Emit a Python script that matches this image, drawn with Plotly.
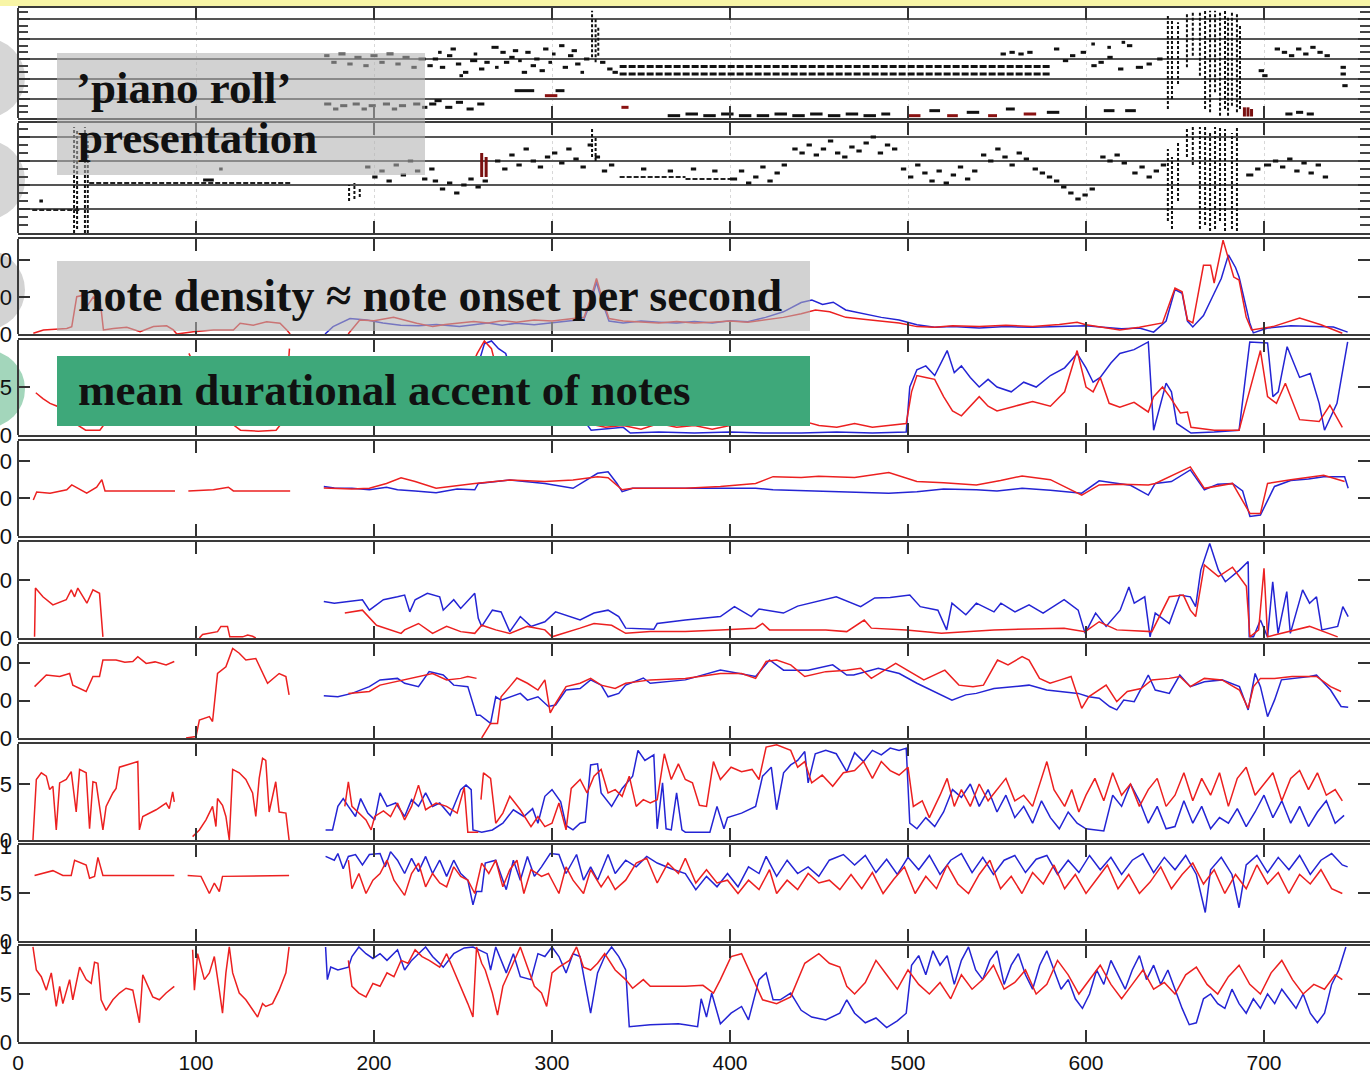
import plotly.graph_objects as go

# ---------------- DATA (time in seconds) ----------------
# Panel 3: note density (onsets per second)
dens_red_a = [(8.6,0.2),(14.3,1.1),(27.4,1.5),(30.2,2.0),(33.0,10.1),(36.7,10.5),(38.6,7.4),(42.3,10.0),(46.1,9.2),(48.0,1.1),(53.6,1.5),(61.1,1.8),(68.6,0.6),(76.1,2.0),(83.5,2.2),(87.3,1.1),(89.2,0.0),(98.5,0.6),(109.8,1.1),(121.0,1.1),(124.8,2.9),(132.2,2.4),(139.7,3.3),(147.2,2.9),(151.0,1.1),(152.9,0.0)]
dens_red_b = [(185.5,0.0),(192,3.8),(200,3.6),(211,4.5),(224,2.9),(233,2.0),(240,2.6),(248,2.9),(256,3.4),(264,3.0),(272,3.6),(280,3.2),(290,3.8),(300,3.5),(310,4.0),(318,4.5),(322,10.0),(325,15.0),(328,10.0),(332,4.2),(340,3.5),(350,3.2),(360,3.0),(370,3.4),(380,3.0),(390,3.2),(400,3.5),(410,3.2),(420,3.8),(430,4.5),(440,5.5),(448,6.5),(456,6.0),(465,4.5),(475,4.0),(485,3.5),(495,3.0),(505,2.0),(515,1.8),(525,2.2),(540,2.0),(555,2.4),(570,2.0),(585,2.6),(595,3.2),(600,2.5),(608,1.9),(619,1.1),(630,1.8),(643,3.0),(650,12.4),(654,11.4),(657,3.8),(660,3.0),(666,18.6),(670,18.6),(672,13.8),(677,25.4),(683,15.4),(686,14.6),(690,4.6),(693,1.1),(705,2.0),(720,4.3),(732,2.5),(744,0.2)]
dens_blue = [(172.5,0.0),(177,2.0),(186.5,4.2),(196,3.8),(205,3.0),(215,2.4),(225,2.2),(235,2.6),(248,2.0),(256,2.6),(264,3.0),(272,2.4),(280,2.9),(290,2.5),(300,3.0),(310,3.4),(318,4.0),(322,9.0),(325,14.0),(328,9.0),(332,3.5),(340,3.0),(350,3.5),(360,3.2),(370,3.0),(380,3.4),(390,3.0),(400,3.6),(410,3.3),(420,4.5),(430,6.0),(440,8.5),(446,9.2),(452,8.0),(458,8.6),(465,6.5),(475,5.5),(485,4.5),(495,3.8),(505,2.5),(515,1.8),(525,2.0),(540,1.6),(555,2.0),(570,1.8),(585,2.0),(600,2.2),(608,1.9),(620,1.4),(630,1.6),(638,0.5),(645,3.5),(650,12.0),(654,11.0),(657,3.5),(660,1.9),(666,5.0),(671,10.0),(676,15.0),(680,21.4),(684,18.0),(686,15.4),(692,3.0),(694,0.3),(702,1.6),(715,2.2),(730,2.0),(739,1.9),(747,0.5)]

# Panel 4: mean durational accent
acc_red_a = [(10,0.44),(14,0.38),(18,0.33),(22,0.30),(27,0.20),(32,0.12),(38,0.05),(46,0.05),(50,0.15),(60,0.30),(70,0.20),(80,0.25),(88,0.30)]
acc_red_b = [(96,0.85),(100,0.70),(105,0.50),(112,0.30),(120,0.12),(125,0.05),(135,0.04),(145,0.05),(148,0.12),(151,0.50),(152.5,0.90)]
acc_red_c = [(185,0.15),(195,0.20),(210,0.30),(225,0.35),(240,0.40),(252,0.60),(258,0.85),(262,0.98),(266,0.90),(270,0.60),(280,0.40),(295,0.30),(310,0.20),(320,0.12),(330,0.08),(340,0.10),(350,0.06),(360,0.12),(370,0.08),(380,0.10),(390,0.06),(400,0.10),(410,0.15),(420,0.12),(430,0.18),(440,0.15),(450,0.10),(460,0.08),(470,0.12),(480,0.08),(490,0.10),(499,0.12),(502,0.45),(505,0.62),(510,0.60),(515,0.58),(520,0.40),(525,0.25),(530,0.20),(535,0.30),(540,0.40),(545,0.30),(550,0.25),(560,0.30),(570,0.35),(580,0.30),(588,0.45),(595,0.88),(600,0.50),(604,0.45),(608,0.60),(613,0.33),(619,0.29),(627,0.34),(635,0.24),(638,0.40),(643,0.50),(647,0.40),(653,0.23),(657,0.24),(659,0.08),(672,0.05),(686,0.05),(690,0.33),(698,0.88),(702,0.40),(707,0.33),(712,0.54),(720,0.16),(731,0.14),(737,0.31),(744,0.08)]
acc_blue = [(172.5,0.20),(180,0.30),(190,0.40),(200,0.35),(210,0.45),(220,0.50),(230,0.45),(240,0.55),(250,0.60),(258,0.70),(262,0.95),(266,0.98),(270,0.90),(274,0.85),(278,0.60),(285,0.50),(295,0.45),(305,0.40),(315,0.30),(320,0.10),(322,0.05),(330,0.06),(340,0.08),(344,0.02),(360,0.03),(380,0.02),(400,0.03),(420,0.02),(440,0.02),(460,0.03),(480,0.02),(499,0.03),(501,0.50),(505,0.68),(510,0.72),(515,0.62),(520,0.80),(522,0.88),(526,0.65),(530,0.72),(535,0.60),(540,0.50),(545,0.58),(550,0.50),(558,0.45),(565,0.55),(572,0.50),(580,0.62),(588,0.70),(595,0.85),(600,0.70),(604,0.55),(608,0.60),(614,0.75),(619,0.85),(627,0.89),(635,0.97),(638,0.05),(645,0.54),(648,0.45),(651,0.12),(659,0.02),(672,0.03),(686,0.05),(692,0.97),(702,0.96),(705,0.40),(708,0.45),(713,0.92),(720,0.60),(726,0.64),(731,0.33),(734,0.05),(741,0.33),(747,0.97)]

# Panel 5
p5_red_a = [(8.6,9.6),(10.5,11.7),(18,11.4),(27.4,12.3),(30.2,13.6),(38.6,11.4),(44.2,13.0),(47.1,15.0),(48.9,12.0),(60,12.0),(75,12.0),(88.2,12.0)]
p5_red_b = [(95.7,12.0),(109.8,12.3),(118.2,13.0),(121,12.0),(152.9,12.0)]
p5_red_c = [(171.8,12.8),(187.6,12.5),(197.4,12.7),(207,14.0),(215.2,15.5),(223.1,14.5),(234.9,12.7),(246.7,13.5),(256.6,14.0),(276.3,14.9),(296,14.5),(311.8,14.9),(325.6,15.8),(331.5,15.5),(339.4,12.3),(345.3,12.7),(374.9,12.7),(394.6,13.2),(414.4,14.0),(424.2,15.8),(440,15.6),(449.8,15.9),(470,15.6),(489.2,16.9),(505,14.5),(520,14.2),(538.4,13.6),(552,14.8),(564.1,16.0),(580,15.0),(597.6,10.9),(607.4,13.6),(620,13.8),(635,13.6),(638.9,14.0),(658.6,18.4),(666.5,12.7),(682.3,14.0),(692.1,6.0),(698,6.0),(702,14.0),(715,15.0),(733.5,16.2),(745.3,14.5)]
p5_blue = [(171.8,13.2),(177.7,12.8),(187.6,12.7),(197.4,12.3),(207,13.0),(213.2,12.3),(223.1,12.0),(234.9,11.5),(246.7,12.5),(256.6,12.3),(258.6,14.0),(276.3,14.9),(296,14.0),(311.8,12.7),(325.6,16.7),(331.5,17.1),(336.5,14.0),(339.4,11.8),(345.3,12.7),(374.9,12.7),(414.4,12.7),(424.2,12.3),(453.8,11.8),(470,11.6),(489.2,11.4),(505,11.8),(520,12.5),(538.4,12.3),(550,12.0),(564.1,12.7),(580,12.2),(597.6,11.4),(607.4,14.7),(615,14.2),(625,13.5),(635,10.9),(638.9,14.0),(648,14.5),(658.6,17.6),(666.5,12.3),(674,13.8),(682.3,14.0),(688,12.0),(692.1,5.2),(698,5.6),(705.9,13.2),(715,14.8),(725,15.2),(733.5,15.8),(745.3,15.8),(747.3,12.7)]

# Panel 6
p6_red_a = [(9.3,0.2),(9.8,8.6),(14,7.1),(19.6,5.7),(27.1,6.6),(29.9,8.3),(31.8,7.1),(33.6,8.6),(38.7,6.0),(42.1,8.3),(45.8,7.7),(47.7,0.2)]
p6_red_b = [(101.9,0.0),(103.7,0.6),(112.1,1.1),(114,2.0),(117.7,2.0),(119,0.2),(126.2,0.2),(129,0.5),(131.8,0.3),(133.6,0.0)]
p6_red_c = [(183.6,4.3),(193.5,4.8),(201.4,2.2),(215.2,0.8),(217.2,1.4),(225,2.5),(232.9,0.8),(240.8,2.0),(248.7,1.1),(256.6,0.8),(260.5,2.2),(268.4,1.4),(276.3,0.8),(286.2,2.0),(296,1.4),(300,0.2),(315.8,1.7),(323.6,2.5),(333.5,2.2),(341.4,0.8),(355.2,1.1),(374.9,1.1),(394.6,1.4),(414.4,1.7),(418.3,2.5),(422.2,1.4),(453.8,1.4),(465.6,1.1),(475.4,3.1),(479.4,1.7),(499,1.4),(518.8,0.8),(548.3,1.4),(587.7,1.7),(599.5,1.1),(607.4,2.8),(617.3,1.4),(637,1.1),(646.8,7.1),(654.7,7.4),(658.6,4.8),(661.6,3.7),(666.5,12.6),(674.4,10.6),(682.3,12.2),(690.1,8.9),(692.1,0.2),(697,1.4),(700,12.0),(702,0.2),(705.9,0.5),(725.6,2.0),(741.4,0.2)]
p6_blue = [(171.8,6.3),(177.7,6.0),(185.6,6.3),(193.5,6.6),(197.4,4.8),(205.3,6.6),(213.2,7.1),(217.2,7.4),(220.1,4.5),(223.1,6.6),(230,7.7),(236.9,7.1),(238.9,4.8),(244.8,6.6),(248.7,5.1),(256.6,7.7),(258.6,3.4),(260.5,2.0),(266.5,4.8),(271.4,4.5),(276.3,1.1),(282.2,3.7),(288.2,2.0),(296,2.8),(302,4.5),(309.8,3.7),(315.8,3.1),(323.6,4.3),(331.5,4.8),(337.5,3.7),(341.4,1.7),(357.2,1.5),(359.1,2.5),(374.9,3.1),(394.6,3.7),(402.5,5.4),(412,3.7),(416.3,5.0),(430,4.3),(438,5.5),(449.8,6.3),(459.7,7.1),(473.4,5.4),(481.3,6.9),(490,7.0),(501,7.4),(506.9,5.4),(516.8,4.8),(521.7,1.4),(524.7,6.0),(532.5,4.0),(538.4,6.0),(548.3,4.5),(552.2,6.0),(560.1,4.5),(568,5.7),(575.9,4.3),(587.7,6.6),(595.6,4.8),(599.5,0.8),(605.4,4.3),(611.3,2.0),(619.2,4.8),(624.1,8.8),(627.1,6.0),(633,7.1),(636,0.2),(638.9,4.3),(646.8,2.5),(652.7,7.4),(658.6,7.1),(661.6,5.4),(664.5,11.7),(669.5,16.3),(674.4,11.7),(678.3,9.7),(686.2,11.7),(691.1,13.2),(691.7,0.2),(694.1,0.2),(698,3.1),(702,0.2),(704.9,9.7),(707.9,0.8),(712.8,8.0),(714.8,0.8),(721.7,8.3),(725.6,6.0),(729.5,7.1),(732.5,1.4),(741.4,2.0),(744.3,5.4),(747.3,3.7)]

# Panel 7
p7_red_a = [(9.3,13.7),(15.9,16.8),(23.4,16.4),(29,17.2),(30.8,14.1),(38.3,12.4),(42.1,16.4),(45.8,16.4),(47.7,20.8),(55.1,20.8),(60,20.2),(64.5,20.4),(67.3,21.7),(72,19.9),(77,20.3),(83.2,19.5),(87.8,20.4)]
p7_red_b = [(94.4,0.0),(100,0.4),(101.9,4.8),(107.5,5.7),(109.3,4.4),(112.1,17.2),(116.8,19.0),(120.6,23.9),(124.3,22.6),(128,20.8),(133.6,21.2),(140.2,14.6),(146.7,17.2),(150.5,16.4),(152.3,11.5)]
p7_red_c = [(185.6,11.9),(197.4,12.4),(203.4,14.1),(217.2,15.5),(225,16.4),(232.9,17.2),(240.8,15.5),(248.7,15.9),(252.7,16.4),(257.6,15.9)]
p7_red_d = [(260.5,0.0),(265.5,3.9),(269.4,3.9),(271.4,11.0),(276.3,13.7),(280.3,16.0),(286.2,14.6),(292.1,12.8),(296,15.5),(299,6.7),(302,9.2),(307.9,13.7),(315.8,14.6),(321.7,15.9),(327.6,14.1),(335.5,13.2),(341.4,14.6),(355.2,15.5),(374.9,15.9),(394.6,17.2),(406.5,17.2),(414.4,15.9),(420.3,20.4),(426.2,20.8),(434.1,19.5),(442,16.4),(453.8,17.7),(465.6,18.1),(473.4,18.6),(479.4,15.9),(493.1,19.9),(501,17.7),(508.9,15.5),(520.7,18.1),(528.6,14.1),(536.5,13.7),(542.4,14.1),(550.3,20.8),(556.2,19.5),(564.1,21.7),(568,20.8),(573.9,15.9),(579.8,14.6),(585.7,15.5),(591.6,16.4),(597.6,7.9),(601.5,11.0),(611.3,14.1),(617.3,9.7),(623.2,12.4),(631,13.2),(637,15.5),(646.8,15.9),(652.7,16.4),(658.6,13.7),(666.5,15.9),(676.4,15.5),(686.2,12.8),(691.1,7.9),(694.1,13.7),(698,15.9),(705.9,15.9),(715.8,16.4),(729.5,16.4),(737.4,13.7),(743.3,12.4)]
p7_blue = [(171.8,11.3),(179.7,11.0),(187.6,11.9),(197.4,13.7),(203.4,15.5),(213.2,15.9),(217.2,14.6),(225,13.7),(231,17.7),(238.9,16.8),(244.8,14.1),(252.7,13.7),(257.6,6.1),(259.6,6.1),(265.5,3.9),(268.4,11.0),(271.4,10.1),(276.3,11.0),(282.2,11.9),(286.2,10.1),(292.1,11.0),(298,8.4),(302,8.8),(307.9,12.8),(315.8,13.2),(321.7,15.5),(327.6,14.1),(331.5,11.0),(337.5,11.9),(341.4,14.1),(351.3,16.0),(355.2,14.6),(374.9,15.5),(394.6,18.1),(414.4,16.4),(422.2,20.8),(430.1,18.1),(443.9,18.1),(457.7,19.5),(465.6,16.8),(469.5,16.8),(483.3,18.6),(495.1,17.2),(505,14.6),(514.8,12.4),(524.7,10.1),(532.5,11.5),(538.4,11.9),(548.3,13.2),(558.2,13.7),(568,14.1),(577.9,12.8),(587.7,12.4),(595.6,11.9),(601.5,11.0),(607.4,10.6),(613.3,8.4),(617.3,7.5),(621.2,10.1),(627.1,9.7),(635,16.8),(638.9,12.8),(646.8,11.9),(652.7,16.8),(658.6,13.7),(666.5,15.0),(676.4,15.5),(686.2,13.7),(691.1,7.5),(695,17.2),(698,13.7),(702,5.7),(705.9,10.1),(709.8,15.5),(725.6,16.4),(729.5,16.8),(737.4,12.8),(743.3,8.4),(747.3,8.2)]

# Panel 8
p8_red_a = [(8.4,0.0),(10.3,0.54),(13.1,0.60),(15.9,0.57),(17.8,0.45),(19.6,0.48),(21.5,0.09),(23.4,0.51),(27.1,0.54),(29.9,0.61),(32.7,0.25),(34.6,0.63),(38.3,0.60),(40.2,0.10),(42.1,0.52),(43.9,0.51),(47.7,0.09),(49.5,0.30),(53.3,0.42),(55.1,0.46),(57,0.65),(62.6,0.68),(67.3,0.70),(68.2,0.09),(70.1,0.21),(77.6,0.27),(83.2,0.33),(85,0.28),(86.9,0.43),(87.8,0.34)]
p8_red_b = [(98.1,0.03),(101.9,0.09),(105.6,0.18),(109.3,0.30),(111.2,0.12),(112.1,0.37),(114.9,0.31),(116.8,0.21),(118.7,0.0),(120.6,0.63),(124.3,0.60),(128,0.54),(131.8,0.42),(133.6,0.21),(135.5,0.55),(137.4,0.73),(139.2,0.71),(141.1,0.25),(144.8,0.52),(146.7,0.25),(150.5,0.24),(152.3,0.0)]
p8_red_c = [(183.6,0.30),(185.6,0.52),(187.6,0.30),(191.5,0.24),(195.5,0.18),(198.4,0.09),(200.4,0.21),(205.3,0.26),(209.3,0.21),(213.2,0.33),(217.2,0.18),(221.1,0.30),(225,0.49),(229,0.27),(234.9,0.33),(240.8,0.30),(246.7,0.24),(250.7,0.47),(252.7,0.07),(258.6,0.07)]
p8_red_d = [(260.1,0.36),(261.5,0.60),(265.5,0.55),(268.4,0.15),(272.4,0.24),(276.3,0.39),(282.2,0.27),(288.2,0.12),(292.1,0.21),(296,0.12),(300,0.15),(303.9,0.33),(307.9,0.09),(310.8,0.46),(315.8,0.54),(319.7,0.42),(323.6,0.57),(327.6,0.63),(331.5,0.42),(335.5,0.45),(339.4,0.39),(343.4,0.57),(347.3,0.30),(351.3,0.36),(355.2,0.33),(359.1,0.36),(363.1,0.77),(367,0.54),(371,0.68),(374.9,0.54),(378.9,0.51),(382.8,0.31),(386.8,0.30),(390.7,0.70),(394.6,0.54),(400.6,0.65),(406.5,0.61),(412.4,0.63),(416.3,0.54),(420.3,0.83),(426.2,0.85),(434.1,0.80),(438,0.65),(442,0.70),(445.9,0.51),(451.8,0.58),(457.7,0.48),(463.7,0.60),(470,0.62),(475,0.70),(480,0.55),(485,0.70),(490,0.62),(495,0.58),(500,0.65),(503,0.30),(508,0.35),(512,0.20),(518,0.40),(522,0.55),(526,0.30),(530,0.45),(535,0.30),(540,0.50),(545,0.35),(550,0.45),(555,0.55),(560,0.35),(565,0.40),(570,0.30),(575,0.55),(578,0.70),(582,0.45),(588,0.30),(592,0.45),(596,0.25),(600,0.40),(605,0.55),(610,0.35),(615,0.60),(620,0.40),(625,0.50),(630,0.30),(635,0.45),(640,0.55),(645,0.30),(650,0.40),(655,0.60),(660,0.35),(665,0.55),(670,0.40),(675,0.60),(680,0.30),(685,0.55),(690,0.65),(695,0.40),(700,0.50),(705,0.60),(710,0.35),(715,0.55),(720,0.62),(725,0.45),(730,0.60),(735,0.40),(740,0.45),(744,0.35)]
p8_blue = [(172.8,0.09),(176.7,0.09),(179.7,0.30),(182.7,0.37),(185.6,0.30),(189.6,0.21),(192.5,0.37),(196.5,0.24),(200.4,0.18),(203.4,0.42),(207.3,0.30),(212.2,0.33),(217.2,0.21),(221.1,0.36),(225,0.30),(229,0.42),(232.9,0.30),(236.9,0.33),(242.8,0.22),(248.7,0.45),(251.7,0.49),(254.6,0.45),(255.6,0.09),(260.5,0.07),(266.5,0.09),(272.4,0.15),(278.3,0.27),(284.2,0.21),(289.1,0.28),(292.1,0.15),(296,0.39),(300,0.45),(304.9,0.34),(307.9,0.13),(311.8,0.09),(315.8,0.15),(318.7,0.16),(321.7,0.67),(325.6,0.68),(327.6,0.42),(333.5,0.30),(339.4,0.46),(345.3,0.57),(348.3,0.80),(352.2,0.71),(357.2,0.76),(359.1,0.10),(362.1,0.51),(364.1,0.10),(367,0.09),(370,0.42),(373,0.09),(374.9,0.07),(388.7,0.07),(392.7,0.30),(396.6,0.10),(398.6,0.20),(406.5,0.24),(414.4,0.30),(418.3,0.57),(423.2,0.65),(426.2,0.27),(430.1,0.60),(434.1,0.67),(438,0.71),(442,0.79),(443.9,0.51),(447.9,0.77),(453.8,0.80),(459.7,0.77),(465.6,0.61),(470,0.78),(475,0.70),(480,0.80),(485,0.76),(490,0.82),(495,0.80),(499,0.82),(501,0.15),(505,0.10),(510,0.20),(515,0.12),(520,0.25),(525,0.45),(530,0.38),(535,0.50),(540,0.30),(545,0.45),(550,0.25),(555,0.40),(560,0.20),(565,0.30),(570,0.15),(575,0.35),(580,0.20),(585,0.10),(590,0.25),(595,0.15),(600,0.10),(610,0.08),(615,0.40),(620,0.30),(625,0.50),(630,0.35),(635,0.15),(640,0.30),(645,0.10),(650,0.12),(655,0.35),(660,0.15),(665,0.30),(670,0.10),(675,0.20),(680,0.15),(685,0.28),(690,0.12),(695,0.25),(700,0.40),(705,0.20),(710,0.35),(715,0.15),(720,0.30),(725,0.12),(730,0.25),(735,0.35),(740,0.15),(745,0.22)]

# Panel 9
p9_red_a = [(9.3,0.69),(15.9,0.72),(19.6,0.74),(25.2,0.69),(29.9,0.69),(31.8,0.85),(35.5,0.82),(38.3,0.80),(40.2,0.66),(43,0.68),(44.9,0.88),(47.7,0.69),(87.8,0.69)]
p9_red_b = [(95.3,0.69),(102.8,0.68),(107.5,0.50),(110.3,0.61),(113.1,0.52),(114.9,0.68),(152.3,0.69)]
p9_red_c = [(185.6,0.85),(187.6,0.55),(191.5,0.71),(195.5,0.50),(199.4,0.64),(203.4,0.71),(207.3,0.85),(211.2,0.64),(217.2,0.48),(221.1,0.71),(225,0.82),(229,0.57),(232.9,0.71),(236.9,0.61),(240.8,0.57),(244.8,0.78),(248.7,0.68),(252.7,0.64),(256.6,0.50),(260.5,0.82),(264.5,0.71),(268.4,0.85),(272.4,0.57),(276.3,0.75),(280.3,0.85),(284.2,0.50),(288.2,0.75),(294.1,0.68),(298,0.71),(303.9,0.50),(307.9,0.78),(311.8,0.64),(317.7,0.50),(321.7,0.75),(327.6,0.57),(331.5,0.68),(335.5,0.54),(341.4,0.64),(347.3,0.82),(353.2,0.87),(359.1,0.61),(365.1,0.82),(371,0.71),(374.9,0.87),(380.8,0.61),(386.8,0.75),(392.7,0.61),(398.6,0.64),(404.5,0.50),(410.4,0.64),(416.3,0.54),(422.2,0.75),(426.2,0.50),(432.1,0.64),(438,0.54),(443.9,0.71),(449.9,0.61),(455.8,0.64),(461.7,0.54),(468,0.70),(474,0.55),(480,0.72),(486,0.50),(492,0.65),(498,0.78),(504,0.50),(510,0.68),(516,0.55),(522,0.80),(528,0.60),(534,0.50),(540,0.70),(546,0.85),(552,0.55),(558,0.68),(564,0.50),(570,0.72),(576,0.60),(582,0.80),(588,0.55),(594,0.70),(600,0.50),(606,0.65),(612,0.80),(618,0.55),(624,0.70),(630,0.50),(636,0.62),(642,0.78),(648,0.55),(654,0.70),(660,0.82),(666,0.60),(672,0.75),(678,0.50),(684,0.70),(690,0.55),(696,0.80),(702,0.60),(708,0.72),(714,0.50),(720,0.70),(726,0.60),(732,0.75),(738,0.55),(744,0.50)]
p9_blue = [(172.8,0.89),(177.7,0.85),(179.7,0.92),(182.7,0.76),(185.6,0.89),(189.6,0.91),(193.5,0.80),(197.4,0.91),(203.4,0.92),(206.3,0.78),(209.3,0.94),(213.2,0.85),(217.2,0.71),(221.1,0.87),(225,0.73),(229,0.89),(232.9,0.71),(236.9,0.85),(240.8,0.68),(244.8,0.85),(248.7,0.71),(252.7,0.64),(255.6,0.38),(257.6,0.52),(260.5,0.52),(262.5,0.82),(268.4,0.85),(274.3,0.54),(278.3,0.85),(282.2,0.64),(286.2,0.89),(290.1,0.68),(294.1,0.78),(299,0.92),(303.9,0.91),(307.9,0.71),(313.8,0.91),(317.7,0.64),(321.7,0.78),(325.6,0.64),(331.5,0.91),(335.5,0.71),(341.4,0.85),(347.3,0.78),(353.2,0.89),(359.1,0.82),(367,0.76),(374.9,0.71),(380.8,0.54),(386.8,0.68),(392.7,0.57),(398.6,0.71),(404.5,0.57),(410.4,0.78),(416.3,0.71),(420.3,0.89),(426.2,0.68),(432.1,0.85),(438,0.71),(443.9,0.78),(449.9,0.68),(455.8,0.85),(463.7,0.91),(470,0.80),(476,0.90),(482,0.72),(488,0.86),(494,0.70),(500,0.88),(506,0.75),(512,0.90),(518,0.70),(524,0.85),(530,0.92),(536,0.72),(542,0.88),(548,0.70),(554,0.85),(560,0.90),(566,0.72),(572,0.86),(578,0.90),(584,0.70),(590,0.85),(596,0.72),(602,0.90),(608,0.75),(614,0.88),(620,0.70),(626,0.85),(632,0.92),(638,0.72),(644,0.88),(650,0.75),(656,0.90),(662,0.70),(667,0.30),(670,0.75),(676,0.88),(682,0.70),(686,0.35),(690,0.80),(696,0.90),(702,0.72),(708,0.88),(714,0.75),(720,0.90),(726,0.70),(732,0.85),(738,0.92),(744,0.80),(747,0.78)]

# Panel 10
p10_red_a = [(8.4,0.99),(10.3,0.75),(13.1,0.68),(15.9,0.54),(18.7,0.72),(21.5,0.37),(23.4,0.58),(25.2,0.40),(29,0.65),(30.8,0.44),(34.6,0.78),(38.3,0.65),(41.1,0.61),(43,0.83),(44.9,0.82),(46.7,0.44),(49.5,0.33),(53.3,0.44),(57,0.51),(60.7,0.56),(64.5,0.54),(68.2,0.20),(70.1,0.70),(72.9,0.58),(75.7,0.47),(79.4,0.44),(83.2,0.51),(87.8,0.58)]
p10_red_b = [(98.1,0.96),(99.1,0.54),(100.9,0.92),(104.7,0.65),(107.5,0.72),(110.3,0.89),(113.1,0.54),(114.9,0.30),(116.8,0.72),(118.7,0.99),(120.6,0.72),(124.3,0.51),(128,0.44),(131.8,0.33),(134.6,0.26),(137.4,0.40),(139.2,0.37),(143,0.40),(146.7,0.54),(150.5,0.72),(152.3,0.99)]
p10_red_c = [(185.6,0.85),(187.6,0.58),(191.5,0.51),(195.5,0.47),(199.4,0.61),(203.4,0.58),(207.3,0.72),(211.2,0.68),(215.2,0.85),(219.1,0.82),(223.1,0.96),(227,0.89),(231,0.85),(236.9,0.78),(240.8,0.92),(244.8,0.75),(248.7,0.58),(252.7,0.40),(255.6,0.26),(257.6,0.99),(260.5,0.82),(262.5,0.75),(266.5,0.51),(269.4,0.28),(272.4,0.58),(276.3,0.75),(282.2,0.99),(286.2,0.78),(290.1,0.58),(294.1,0.51),(297,0.37),(300,0.72),(303.9,0.78),(309.8,0.85),(313.8,0.99),(317.7,0.78),(321.7,0.75),(325.6,0.82),(329.6,0.92),(335.5,0.75),(341.4,0.65),(345.3,0.56),(351.3,0.65),(355.2,0.58),(365.1,0.58),(374.9,0.58),(384.8,0.59),(390.7,0.51),(394.6,0.65),(400.6,0.89),(406.5,0.92),(412.4,0.68),(418.3,0.44),(426.2,0.40),(434.1,0.47),(442,0.82),(449.9,0.92),(455.8,0.82),(461.7,0.78),(465.6,0.58),(470,0.50),(476,0.62),(482,0.85),(488,0.70),(494,0.55),(500,0.75),(506,0.60),(512,0.50),(518,0.62),(524,0.45),(530,0.70),(536,0.55),(542,0.65),(548,0.80),(554,0.55),(560,0.62),(566,0.75),(572,0.50),(578,0.60),(584,0.85),(590,0.70),(596,0.50),(602,0.65),(608,0.80),(614,0.60),(620,0.45),(626,0.60),(632,0.75),(638,0.55),(644,0.62),(650,0.50),(656,0.70),(662,0.78),(668,0.60),(674,0.50),(680,0.68),(686,0.80),(692,0.60),(698,0.50),(704,0.72),(710,0.85),(716,0.65),(722,0.50),(728,0.60),(734,0.55),(740,0.70),(744,0.65)]
p10_blue = [(172.8,0.99),(173.8,0.65),(175.7,0.78),(179.7,0.75),(185.6,0.78),(187.6,0.89),(191.5,0.99),(195.5,0.92),(199.4,0.87),(203.4,0.92),(207.3,0.85),(213.2,0.96),(217.2,0.75),(221.1,0.85),(225,0.92),(229,0.99),(232.9,0.89),(238.9,0.78),(244.8,0.92),(250.7,0.98),(255.6,0.99),(263.5,0.92),(265.5,0.75),(268.4,0.99),(274.3,0.72),(278.3,0.92),(282.2,0.68),(288.2,0.65),(292.1,0.92),(296,0.89),(300,0.99),(303.9,0.89),(307.9,0.72),(311.8,0.92),(315.8,0.89),(321.7,0.30),(325.6,0.72),(329.6,0.89),(333.5,0.99),(337.5,0.89),(341.4,0.75),(343.4,0.16),(355.2,0.18),(365.1,0.19),(371,0.19),(374.9,0.18),(381.8,0.16),(383.8,0.45),(386.8,0.26),(389.7,0.51),(394.6,0.19),(400.6,0.30),(406.5,0.37),(410.4,0.23),(416.3,0.65),(420.3,0.72),(424.2,0.44),(428.2,0.44),(434.1,0.51),(440,0.33),(445.9,0.26),(453.8,0.23),(461.7,0.30),(465.6,0.44),(470,0.30),(476,0.20),(482,0.25),(488,0.15),(494,0.22),(499,0.30),(502,0.80),(506,0.90),(510,0.70),(514,0.95),(518,0.80),(522,0.90),(526,0.60),(530,0.85),(534,0.99),(538,0.75),(542,0.65),(546,0.85),(550,0.95),(554,0.60),(558,0.80),(562,0.92),(566,0.70),(570,0.55),(574,0.80),(578,0.95),(582,0.75),(586,0.55),(590,0.65),(594,0.45),(598,0.35),(602,0.50),(606,0.75),(610,0.60),(614,0.85),(618,0.70),(622,0.55),(626,0.75),(630,0.90),(634,0.65),(638,0.80),(642,0.60),(646,0.75),(650,0.55),(654,0.35),(658,0.18),(662,0.20),(666,0.45),(670,0.50),(674,0.40),(678,0.35),(682,0.55),(686,0.40),(690,0.30),(694,0.45),(698,0.35),(702,0.50),(706,0.40),(710,0.55),(714,0.45),(718,0.35),(722,0.50),(726,0.30),(730,0.20),(734,0.30),(738,0.60),(742,0.75),(746,0.99)]

# Piano roll (start s, end s, MIDI pitch)
pr1_notes = [(172,175,62),(176,179,58),(180,184,63),(185,188,57),(189,193,61),(194,197,56),(198,202,62),(203,206,58),(207,211,63),(212,215,57),(216,220,61),(221,224,55),(225,229,60),(230,233,56),
             (172,176,33),(177,180,30),(181,185,32),(188,192,33),(193,196,30),(197,201,32),(205,209,33),(210,213,30),(214,218,32),(222,226,33),(227,230,31),(231,235,33),
             (233,236,60),(237,240,55),(241,244,62),(246,249,57),(250,253,52),(254,258,59),(259,262,54),
             (236,238,64),(243,246,66),(248,250,50),(256,258,63),(262,265,58),(268,270,55),(273,276,58),(278,281,65),(283,286,52),(288,291,56),(293,296,53),(298,300,58),(306,309,55),(311,314,65),(316,318,52),
             (234,238,35),(240,244,31),(246,250,34),(252,256,30),(258,262,33),
             (266,270,67),(271,274,64),(276,279,61),(281,283,59),(285,288,64),(290,293,60),(295,298,66),(300,302,63),(304,307,68),(309,312,62),(313,316,57),(318,321,60),
             (279,290,41),(302,307,41),(327,330,58),(331,334,54),(334,337,52),
             (552,555,63),(557,560,64),(562,565,63),(567,570,64),
             (582,585,66),(587,590,59),(591,594,62),(597,600,64),(603,606,56),(607,610,58),(612,615,61),(618,621,54),(623,626,68),(628,632,55),(634,637,57),(640,643,60),
             (603,605,69),(612,614,67),(620,622,70),(610,616,29),(622,628,29),
             (697,700,53),(699,702,50),(706,709,66),(710,713,64),(714,717,62),(718,721,66),(722,725,63),(726,729,67),(730,733,64),(734,737,62),
             (712,716,27),(718,722,28),(724,728,27),(743,746,55),(743,746,51),(744,747,44),
             (365,372,26),(375,382,27),(385,392,26),(395,402,27),(405,412,26),(415,422,26),(425,432,27),(435,442,26),(445,452,27),(455,462,26),(465,472,27),(475,482,26),(485,490,27),(512,518,29),(533,540,28),(555,560,30),(578,585,28)]
pr1_red_notes = [(296,303,38),(339,343,31),(500,507,26),(522,528,26),(545,550,26),(565,572,27)]
pr1_bands = [(338,580,55.5),(338,580,51)]
pr1_stacks = [(322.5,61,89),(324.5,58,84),(326,62,80),(646,30,86),(648.3,36,84),(651.7,45,82),(656.7,55,88),(660,62,89),(664,50,88),(666.9,30,89),(669.7,28,89),(672.5,40,89),(675.3,26,89),(678.1,30,89),(679.8,26,86),(682,32,89),(684.8,28,88),(686.5,30,80)]
pr1_red_stacks = [(689,25.5,31),(691,25.5,31),(693,25.5,30)]

pr2_lines = [(8,35,35.5),(40,153,49),(338,375,52),(375,400,51)]
pr2_notes = [(12,14,40),(104,110,50.5),(113,115,56),
             (195,198,57),(199,202,52),(203,206,55),(207,210,50),(211,214,58),(215,218,53),(219,222,60),(223,226,55),(227,230,51),(231,234,56),
             (233,236,50),(237,240,46),(241,244,49),(245,248,44),(249,252,48),(253,256,51),(257,260,47),(261,264,50),
             (268,271,60),(272,275,56),(276,279,63),(280,283,58),(284,287,66),(288,291,60),(292,295,57),(296,299,62),
             (300,303,64),(304,307,59),(308,311,66),(312,315,61),(316,319,57),(320,323,68),(324,327,62),(328,331,55),(332,335,58),
             (350,353,56),(365,368,55),(378,381,56),(390,393,55),
             (400,404,51),(405,408,55),(409,412,49),(413,416,52),(417,420,57),(421,424,50),(425,428,54),(429,432,58),
             (435,438,66),(439,442,64),(443,446,68),(447,450,63),(451,454,66),(455,458,70),(459,462,64),(463,466,62),(467,470,67),(471,474,65),(475,478,69),(479,482,72),(483,486,64),(487,490,68),(491,494,66),
             (496,499,56),(500,503,52),(504,507,58),(508,511,54),(512,515,50),(516,519,55),(520,523,49),(524,527,53),(528,531,57),(532,535,51),(536,539,55),
             (541,544,63),(545,548,60),(549,552,66),(553,556,62),(557,560,58),(561,564,64),(565,568,61),
             (570,573,56),(574,577,54),(578,581,52),(582,585,50),(586,589,47),(590,593,44),(594,597,41),(598,601,43),(602,605,46),
             (608,611,62),(612,615,60),(616,619,63),(620,623,59),(626,629,54),(630,633,57),(634,637,52),(638,641,55),(642,645,58),
             (690,694,53),(695,698,56),(700,704,58),(705,708,60),(709,712,57),(713,716,61),(717,720,55),(721,724,59),(725,728,54),(729,732,58),(733,736,52)]
pr2_stacks = [(31.5,24,77),(33.2,26,75),(37.6,24,77),(39.2,24,70),(186,40,48),(189,41,49),(192,42,47),(322.5,62,76),(324.5,60,72),
              (646,30,66),(648.3,26,62),(651.7,40,70),(656.7,62,77),(660,58,77),(664,26,77),(666.9,28,77),(669.7,25,75),(672.5,26,77),(675.3,30,77),(678.1,25,76),(682,26,74),(684.8,25,77)]
pr2_red_stacks = [(260.5,52,64),(263,52,62)]

x_ticks = [0, 100, 200, 300, 400, 500, 600, 700]

# ---------------- LAYOUT HELPERS ----------------
W, H = 1370, 1075
ML, MB = 18, 33
PH = H - MB
XMAX = (W - ML) / 1.78
panels_px = [(8,118),(123,233),(239,334),(340,435),(441,536),(542,638),(644,738),(744,840),(845,941),(946,1042)]
yranges = [[24.6,90.6],[24,79],[0,25.7],[0,0.99],[0,25.3],[0,16.55],[0,25.07],[0,0.857],[0,1.01],[0,1.0]]
yticks = [None, None, [0,10,20], [0,0.5,1], [0,10,20], [0,10], [0,10,20], [0,0.5], [0,0.5,1], [0,0.5,1]]

def px_x(px): return (px - ML) / (W - ML)
def py_y(py): return (PH - py) / PH

RED = "#ec2020"
BLUE = "#2424d4"
FRAME = "#3a3a3a"

def xy(*segs):
    xs, ys = [], []
    for k, s in enumerate(segs):
        if k:
            xs.append(None); ys.append(None)
        xs += [p[0] for p in s]
        ys += [p[1] for p in s]
    return xs, ys

def notes_xy(notes):
    xs, ys = [], []
    for a, b, p in notes:
        xs += [a, b, None]; ys += [p, p, None]
    return xs, ys

def stacks_xy(st):
    xs, ys = [], []
    for t, lo, hi in st:
        xs += [t, t, None]; ys += [lo, hi, None]
    return xs, ys

fig = go.Figure()

def ax(i):
    return ("x" if i == 1 else f"x{i}"), ("y" if i == 1 else f"y{i}")

def add_line(i, xs, ys, color, width=1.5, dash=None):
    xa, ya = ax(i)
    fig.add_trace(go.Scatter(x=xs, y=ys, xaxis=xa, yaxis=ya, mode="lines",
                             line=dict(color=color, width=width, dash=dash),
                             connectgaps=False, hoverinfo="skip", showlegend=False))

add_line(1, *notes_xy(pr1_bands), "#111111", 3, "7px,2px")
add_line(1, *notes_xy(pr1_notes), "#111111", 3)
add_line(1, *notes_xy(pr1_red_notes), "#8a1212", 3)
add_line(1, *stacks_xy(pr1_stacks), "#111111", 2, "3px,2px")
add_line(1, *stacks_xy(pr1_red_stacks), "#7a1010", 3)
add_line(2, *notes_xy(pr2_lines), "#222222", 2, "5px,2px")
add_line(2, *notes_xy(pr2_notes), "#111111", 3)
add_line(2, *stacks_xy(pr2_stacks), "#111111", 2, "3px,2px")
add_line(2, *stacks_xy(pr2_red_stacks), "#7a1010", 3)

series = {
    3: (xy(dens_blue), xy(dens_red_a, dens_red_b)),
    4: (xy(acc_blue), xy(acc_red_a, acc_red_b, acc_red_c)),
    5: (xy(p5_blue), xy(p5_red_a, p5_red_b, p5_red_c)),
    6: (xy(p6_blue), xy(p6_red_a, p6_red_b, p6_red_c)),
    7: (xy(p7_blue), xy(p7_red_a, p7_red_b, p7_red_c, p7_red_d)),
    8: (xy(p8_blue), xy(p8_red_a, p8_red_b, p8_red_c, p8_red_d)),
    9: (xy(p9_blue), xy(p9_red_a, p9_red_b, p9_red_c)),
    10: (xy(p10_blue), xy(p10_red_a, p10_red_b, p10_red_c)),
}
for i, (b, r) in series.items():
    add_line(i, b[0], b[1], BLUE)
    add_line(i, r[0], r[1], RED)

layout = dict(width=W, height=H, margin=dict(l=ML, r=0, t=0, b=MB, autoexpand=False),
              paper_bgcolor="white", plot_bgcolor="rgba(0,0,0,0)", hovermode=False, showlegend=False)
shapes = []
for i in range(1, 11):
    top, bot = panels_px[i - 1]
    xk = "xaxis" if i == 1 else f"xaxis{i}"
    yk = "yaxis" if i == 1 else f"yaxis{i}"
    xa, ya = ax(i)
    pr = i <= 2
    layout[xk] = dict(domain=[0, 1], anchor=ya, range=[0, XMAX], tickvals=x_ticks,
                      ticktext=[str(v) for v in x_ticks], ticks="inside", ticklen=12, tickwidth=1.5,
                      tickcolor="#333", showline=True, linecolor=FRAME, linewidth=2, mirror="ticks",
                      showticklabels=(i == 10), zeroline=False, automargin=False,
                      showgrid=pr, gridcolor="#d8d8d8", griddash="dot", gridwidth=1,
                      tickfont=dict(family="Liberation Sans", size=21, color="#111"),
                      ticklabelstandoff=1)
    ydict = dict(domain=[py_y(bot), py_y(top)], anchor=xa, range=yranges[i - 1],
                 ticks="inside", ticklen=12, tickwidth=1.5, tickcolor="#333", mirror="ticks",
                 showline=False, zeroline=False, automargin=False,
                 tickfont=dict(family="Liberation Sans", size=22, color="#111"),
                 ticklabelstandoff=5)
    if pr:
        ydict.update(tickmode="linear", tick0=36, dtick=12, showticklabels=False, showgrid=True,
                     gridcolor="#555555", gridwidth=2,
                     minor=dict(tick0=36, dtick=4, ticks="inside", ticklen=10, tickcolor="#444", showgrid=False))
    else:
        tv = yticks[i - 1]
        ydict.update(tickmode="array", tickvals=tv, ticktext=[("%g" % v) for v in tv], showgrid=False)
    layout[yk] = ydict
    shapes.append(dict(type="line", xref="paper", yref="paper", x0=0, x1=0,
                       y0=py_y(bot), y1=py_y(top), line=dict(color=FRAME, width=2)))

def circle(cx, cy, r, color):
    return dict(type="circle", xref="paper", yref="paper", layer="below",
                x0=px_x(cx - r), x1=px_x(cx + r), y0=py_y(cy + r), y1=py_y(cy - r),
                fillcolor=color, line=dict(width=0))

def rect(x0, y0, x1, y1, color, layer="above"):
    return dict(type="rect", xref="paper", yref="paper", layer=layer,
                x0=px_x(x0), x1=px_x(x1), y0=py_y(y1), y1=py_y(y0),
                fillcolor=color, line=dict(width=0))

shapes += [
    rect(0, 0, W, 6, "#f8f5a6"),
    circle(-15, 78, 40, "#d6d6d6"),
    circle(-15, 180, 40, "#d6d6d6"),
    circle(-15, 290, 40, "#d3d3d3"),
    circle(-14, 389, 39, "#a3d6bb"),
    rect(57, 53, 425, 175, "rgba(178,178,178,0.58)"),
    rect(57, 261, 810, 331, "rgba(178,178,178,0.58)"),
    rect(57, 356, 810, 426, "#3ea87a"),
]
layout["shapes"] = shapes

def label(text, px, py, size=45):
    return dict(text="<b>%s</b>" % text, xref="paper", yref="paper", x=px_x(px), y=py_y(py),
                xanchor="left", yanchor="middle", showarrow=False,
                font=dict(family="Liberation Serif", size=size, color="#111"))

layout["annotations"] = [
    label("\u2019piano roll\u2019", 74, 88),
    label("presentation", 76, 138),
    label("note density \u2248 note onset per second", 76, 295, 46),
    label("mean durational accent of notes", 76, 390),
]
fig.update_layout(**layout)
fig.write_html("out.html")
